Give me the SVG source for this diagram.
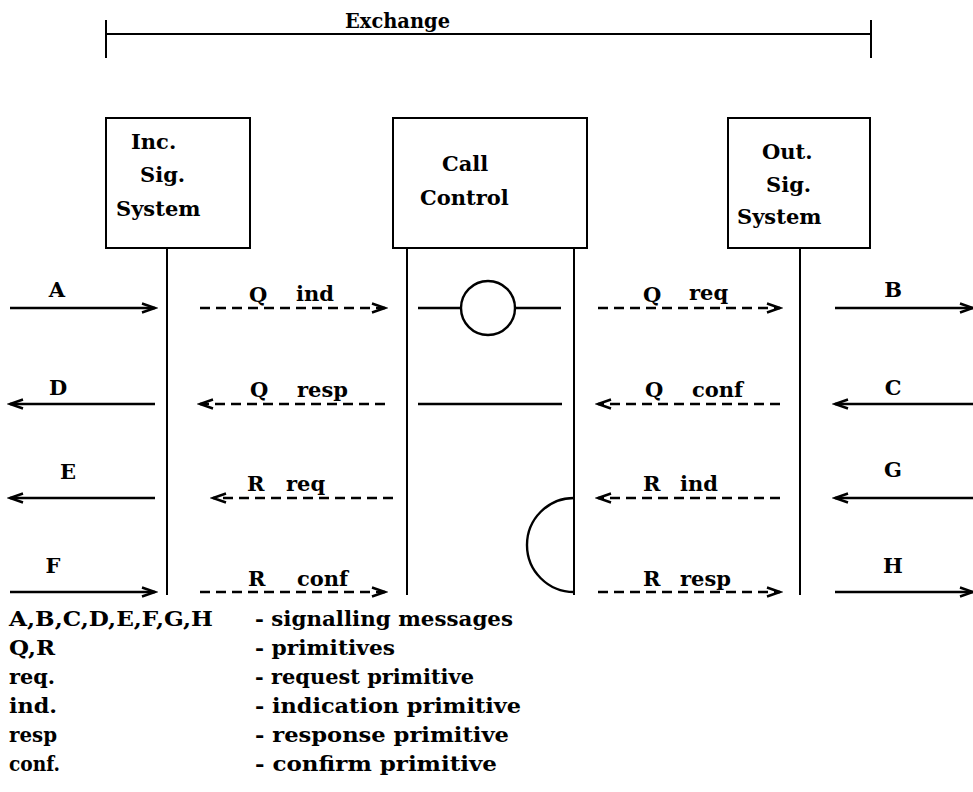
<svg xmlns="http://www.w3.org/2000/svg" width="973" height="792" viewBox="0 0 973 792">
<style>
text{font-family:"DejaVu Serif","Liberation Serif",serif;font-size:21px;font-weight:bold;fill:#000}
.lg{font-size:20px}
.ln{stroke:#000;stroke-width:2;fill:none}
.sol{stroke:#000;stroke-width:2.4;fill:none}
.dash{stroke:#000;stroke-width:2.4;fill:none;stroke-dasharray:10 6}
.box{fill:#fff;stroke:#000;stroke-width:2}
</style>
<defs>
<marker id="ah" markerUnits="userSpaceOnUse" markerWidth="18" markerHeight="12" refX="15" refY="6" orient="auto">
<path d="M2,1.5 L15,6 L2,10.5" fill="none" stroke="#000" stroke-width="2.4"/>
</marker>
</defs>
<rect width="973" height="792" fill="#fff"/>
<g id="exchange">
<line class="ln" x1="106" y1="34" x2="871" y2="34"/>
<line class="ln" x1="106" y1="20" x2="106" y2="58"/>
<line class="ln" x1="871" y1="20" x2="871" y2="58"/>
<text x="345" y="28" textLength="105" lengthAdjust="spacingAndGlyphs">Exchange</text>
</g>
<g id="inc">
<rect class="box" x="106" y="118" width="144" height="130"/>
<text x="131" y="149">Inc.</text>
<text x="140" y="182">Sig.</text>
<text x="116" y="216">System</text>
<line class="ln" x1="167" y1="248" x2="167" y2="595"/>
</g>
<g id="cc">
<rect class="box" x="393" y="118" width="194" height="130"/>
<text x="442" y="171">Call</text>
<text x="420" y="205">Control</text>
<line class="ln" x1="407" y1="248" x2="407" y2="595"/>
<line class="ln" x1="574" y1="248" x2="574" y2="595"/>
<line class="sol" x1="418" y1="308" x2="461" y2="308"/>
<circle class="sol" cx="488" cy="308" r="27"/>
<line class="sol" x1="515" y1="308" x2="561" y2="308"/>
<line class="sol" x1="418" y1="404" x2="562" y2="404"/>
<path class="sol" d="M574,498 A47,47 0 0 0 574,592"/>
</g>
<g id="out">
<rect class="box" x="728" y="118" width="142" height="130"/>
<text x="762" y="159">Out.</text>
<text x="766" y="192">Sig.</text>
<text x="737" y="224">System</text>
<line class="ln" x1="800" y1="248" x2="800" y2="595"/>
</g>
<g id="connectors">
<line class="sol" x1="10" y1="308" x2="155" y2="308" marker-end="url(#ah)"/>
<line class="dash" x1="200" y1="308" x2="385" y2="308" marker-end="url(#ah)"/>
<line class="dash" x1="598" y1="308" x2="780" y2="308" marker-end="url(#ah)"/>
<line class="sol" x1="835" y1="308" x2="973" y2="308" marker-end="url(#ah)"/>
<line class="sol" x1="155" y1="404" x2="10" y2="404" marker-end="url(#ah)"/>
<line class="dash" x1="385" y1="404" x2="200" y2="404" marker-end="url(#ah)"/>
<line class="dash" x1="780" y1="404" x2="598" y2="404" marker-end="url(#ah)"/>
<line class="sol" x1="973" y1="404" x2="835" y2="404" marker-end="url(#ah)"/>
<line class="sol" x1="155" y1="498" x2="10" y2="498" marker-end="url(#ah)"/>
<line class="dash" x1="393" y1="498" x2="213" y2="498" marker-end="url(#ah)"/>
<line class="dash" x1="780" y1="498" x2="598" y2="498" marker-end="url(#ah)"/>
<line class="sol" x1="973" y1="498" x2="835" y2="498" marker-end="url(#ah)"/>
<line class="sol" x1="10" y1="592" x2="155" y2="592" marker-end="url(#ah)"/>
<line class="dash" x1="200" y1="592" x2="385" y2="592" marker-end="url(#ah)"/>
<line class="dash" x1="598" y1="592" x2="780" y2="592" marker-end="url(#ah)"/>
<line class="sol" x1="835" y1="592" x2="973" y2="592" marker-end="url(#ah)"/>
<text x="57" y="297" text-anchor="middle">A</text>
<text x="249" y="302">Q</text><text x="296" y="301">ind</text>
<text x="643" y="302">Q</text><text x="689" y="300">req</text>
<text x="893" y="297" text-anchor="middle">B</text>
<text x="58" y="395" text-anchor="middle">D</text>
<text x="250" y="397">Q</text><text x="297" y="397">resp</text>
<text x="645" y="397">Q</text><text x="692" y="397">conf</text>
<text x="893" y="395" text-anchor="middle">C</text>
<text x="68" y="479" text-anchor="middle">E</text>
<text x="247" y="491">R</text><text x="286" y="491">req</text>
<text x="643" y="491">R</text><text x="680" y="491">ind</text>
<text x="893" y="477" text-anchor="middle">G</text>
<text x="53" y="573" text-anchor="middle">F</text>
<text x="248" y="586">R</text><text x="297" y="586">conf</text>
<text x="643" y="586">R</text><text x="680" y="586">resp</text>
<text x="893" y="573" text-anchor="middle">H</text>
</g>
<g id="legend">
<text class="lg" x="9" y="626" textLength="204" lengthAdjust="spacingAndGlyphs">A,B,C,D,E,F,G,H</text>
<text class="lg" x="9" y="655" textLength="46" lengthAdjust="spacingAndGlyphs">Q,R</text>
<text class="lg" x="9" y="684" textLength="46" lengthAdjust="spacingAndGlyphs">req.</text>
<text class="lg" x="9" y="713" textLength="48" lengthAdjust="spacingAndGlyphs">ind.</text>
<text class="lg" x="9" y="742" textLength="48" lengthAdjust="spacingAndGlyphs">resp</text>
<text class="lg" x="9" y="771" textLength="51" lengthAdjust="spacingAndGlyphs">conf.</text>
<text class="lg" x="255" y="626" textLength="258" lengthAdjust="spacingAndGlyphs">- signalling messages</text>
<text class="lg" x="255" y="655" textLength="140" lengthAdjust="spacingAndGlyphs">- primitives</text>
<text class="lg" x="255" y="684" textLength="219" lengthAdjust="spacingAndGlyphs">- request primitive</text>
<text class="lg" x="255" y="713" textLength="266" lengthAdjust="spacingAndGlyphs">- indication primitive</text>
<text class="lg" x="255" y="742" textLength="254" lengthAdjust="spacingAndGlyphs">- response primitive</text>
<text class="lg" x="255" y="771" textLength="242" lengthAdjust="spacingAndGlyphs">- confirm primitive</text>
</g>
</svg>
